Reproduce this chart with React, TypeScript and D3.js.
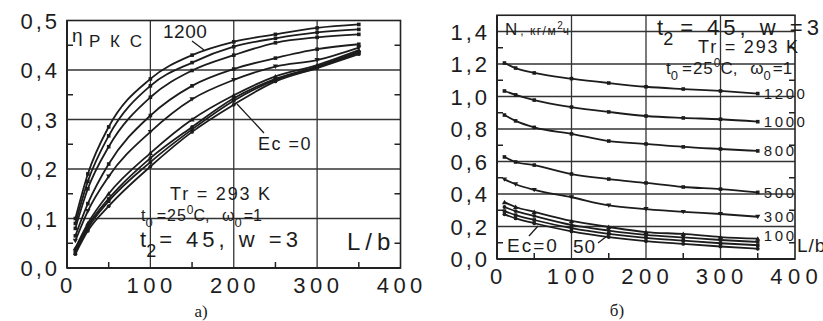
import React from 'react';
import * as d3 from 'd3';

// L/b sample points (shared by both panels)
const LB = [10, 25, 50, 100, 150, 200, 250, 300, 350];
// Ec series labels
const EC = ['1200', '1000', '800', '500', '300', '100', '50', '25', '0'];

// Panel a) : eta_RKS
const eta1200 = [0.1, 0.19, 0.285, 0.382, 0.43, 0.457, 0.472, 0.485, 0.492];
const eta1000 = [0.09, 0.175, 0.267, 0.368, 0.415, 0.447, 0.464, 0.476, 0.482];
const eta800 = [0.08, 0.16, 0.245, 0.345, 0.399, 0.43, 0.455, 0.466, 0.472];
const eta500 = [0.065, 0.13, 0.21, 0.308, 0.368, 0.402, 0.424, 0.442, 0.452];
const eta300 = [0.055, 0.115, 0.185, 0.275, 0.341, 0.38, 0.407, 0.42, 0.445];
const eta100 = [0.04, 0.09, 0.15, 0.232, 0.3, 0.349, 0.387, 0.41, 0.44];
const eta50 = [0.035, 0.085, 0.14, 0.222, 0.285, 0.343, 0.382, 0.407, 0.437];
const eta25 = [0.03, 0.08, 0.135, 0.214, 0.28, 0.338, 0.38, 0.405, 0.435];
const eta0 = [0.028, 0.075, 0.125, 0.205, 0.275, 0.33, 0.377, 0.404, 0.432];

// Panel б) : N, кг/м²ч
const n1200 = [1.206, 1.175, 1.145, 1.11, 1.083, 1.06, 1.046, 1.034, 1.018];
const n1000 = [1.034, 1.01, 0.978, 0.935, 0.905, 0.88, 0.868, 0.86, 0.845];
const n800 = [0.886, 0.85, 0.81, 0.77, 0.726, 0.708, 0.69, 0.677, 0.665];
const n500 = [0.628, 0.597, 0.578, 0.523, 0.492, 0.468, 0.443, 0.43, 0.41];
const n300 = [0.49, 0.46, 0.425, 0.38, 0.33, 0.307, 0.29, 0.277, 0.26];
const n100 = [0.35, 0.32, 0.29, 0.234, 0.197, 0.166, 0.154, 0.135, 0.125];
const n50 = [0.32, 0.295, 0.265, 0.21, 0.175, 0.148, 0.133, 0.117, 0.105];
const n25 = [0.295, 0.27, 0.24, 0.19, 0.155, 0.13, 0.113, 0.097, 0.085];
const n0 = [0.275, 0.25, 0.22, 0.17, 0.135, 0.11, 0.093, 0.077, 0.063];

const X_TICKS = [0, 100, 200, 300, 400];
const X_MINOR = [50, 150, 250, 350];
const ETA_TICKS = [0, 0.1, 0.2, 0.3, 0.4, 0.5];
const ETA_MINOR = [0.05, 0.15, 0.25, 0.35, 0.45];
const N_TICKS = [0, 0.2, 0.4, 0.6, 0.8, 1.0, 1.2, 1.4];
const N_MINOR = [0.1, 0.3, 0.5, 0.7, 0.9, 1.1, 1.3];
const LABELLED_N = ['1200', '1000', '800', '500', '300', '100'];

const etaSeries = [eta1200, eta1000, eta800, eta500, eta300, eta100, eta50, eta25, eta0];
const nSeries = [n1200, n1000, n800, n500, n300, n100, n50, n25, n0];
const MARKERS = ['sq', 'sq', 'sq', 'sq', 'tri', 'triup', 'dot', 'sq', 'dot'];

const FONT = '"Liberation Sans", Arial, sans-serif';
const INK = '#1c1c1c';
const fmt = (v: number) => d3.format('.1f')(v).replace('.', ',');

function Marker({ kind, x, y }: { kind: string; x: number; y: number }) {
  if (kind === 'tri')
    return <path d={`M${x - 2.6},${y - 2} L${x + 2.6},${y - 2} L${x},${y + 2.4} Z`} fill={INK} />;
  if (kind === 'triup')
    return <path d={`M${x - 2.6},${y + 2} L${x + 2.6},${y + 2} L${x},${y - 2.4} Z`} fill={INK} />;
  if (kind === 'dot') return <circle cx={x} cy={y} r={1.9} fill={INK} />;
  return <rect x={x - 1.8} y={y - 1.8} width={3.6} height={3.6} fill={INK} />;
}

type PanelProps = {
  x: d3.ScaleLinear<number, number>;
  y: d3.ScaleLinear<number, number>;
  series: number[][];
  yTicks: number[];
  yMinor: number[];
  top: number;
  xLabelSpacing: number;
};

function Panel({ x, y, series, yTicks, yMinor, top, xLabelSpacing }: PanelProps) {
  const [x0, x1] = x.range();
  const y0 = y(0);
  const line = d3
    .line<number>()
    .x((_, i) => x(LB[i]))
    .y((d) => y(d))
    .curve(d3.curveMonotoneX);
  return (
    <g>
      {yTicks.filter((t) => t > 0 && y(t) > top + 2).map((t) => (
        <line key={'h' + t} x1={x0} x2={x1} y1={y(t)} y2={y(t)} stroke="#333" strokeWidth={1.3} />
      ))}
      {X_TICKS.filter((t) => t > 0 && t < 400).map((t) => (
        <line key={'v' + t} x1={x(t)} x2={x(t)} y1={top} y2={y0} stroke="#333" strokeWidth={1.3} />
      ))}
      <rect x={x0} y={top} width={x1 - x0} height={y0 - top} fill="none" stroke="#222" strokeWidth={1.6} />
      <line x1={x0} x2={x1} y1={y0} y2={y0} stroke="#222" strokeWidth={2.2} />
      <line x1={x0} x2={x0} y1={top} y2={y0} stroke="#222" strokeWidth={2} />
      {yMinor.map((t) => (
        <g key={'ym' + t}>
          <line x1={x0} x2={x0 + 6} y1={y(t)} y2={y(t)} stroke="#222" strokeWidth={1.5} />
          <line x1={x1} x2={x1 - 6} y1={y(t)} y2={y(t)} stroke="#222" strokeWidth={1.5} />
        </g>
      ))}
      {X_MINOR.map((t) => (
        <line key={'xm' + t} x1={x(t)} x2={x(t)} y1={y0} y2={y0 - 6} stroke="#222" strokeWidth={1.5} />
      ))}
      {yTicks.map((t) => (
        <text
          key={'yl' + t}
          x={x0 - 7}
          y={y(t) + 8}
          textAnchor="end"
          fontFamily={FONT}
          fontSize={22}
          letterSpacing={3}
          fill={INK}
        >
          {fmt(t)}
        </text>
      ))}
      {X_TICKS.map((t) => (
        <text
          key={'xl' + t}
          x={x(t) + xLabelSpacing / 2 - 1}
          y={y0 + 25}
          textAnchor="middle"
          fontFamily={FONT}
          fontSize={22}
          letterSpacing={xLabelSpacing}
          fill={INK}
        >
          {t}
        </text>
      ))}
      {series.map((s, k) => (
        <g key={'s' + k}>
          <path d={line(s) || ''} fill="none" stroke={INK} strokeWidth={1.8} />
          {s.map((v, i) => (
            <Marker key={i} kind={MARKERS[k]} x={x(LB[i])} y={y(v)} />
          ))}
        </g>
      ))}
    </g>
  );
}

export default function App() {
  const xA = d3.scaleLinear().domain([0, 400]).range([67, 400.5]);
  const yA = d3.scaleLinear().domain([0, 0.5]).range([268, 20.5]);
  const xB = d3.scaleLinear().domain([0, 400]).range([497, 795]);
  const yB = d3.scaleLinear().domain([0, 1.5]).range([259, 15.25]);

  const txt = { fontFamily: FONT, fill: INK } as const;

  return (
    <svg
      width={823}
      height={321}
      style={{ position: 'absolute', left: 0, top: 0, background: '#fff' }}
    >
      <rect x={0} y={0} width={823} height={321} fill="#fff" />
      <Panel x={xA} y={yA} series={etaSeries} yTicks={ETA_TICKS} yMinor={ETA_MINOR} top={yA(0.5)} xLabelSpacing={4.5} />
      <Panel x={xB} y={yB} series={nSeries} yTicks={N_TICKS} yMinor={N_MINOR} top={yB(1.5)} xLabelSpacing={5.5} />

      {/* Panel a) annotations */}
      <text x={72} y={42} fontSize={19} {...txt}>η</text>
      <text x={89} y={47} fontSize={17} letterSpacing={2.5} {...txt}>Р К С</text>
      <text x={163} y={38} fontSize={19} letterSpacing={0.5} {...txt}>1200</text>
      <line x1={192} y1={41} x2={204} y2={50} stroke={INK} strokeWidth={1.3} />
      <text x={258} y={150} fontSize={18} letterSpacing={1.5} {...txt}>Ec =0</text>
      <line x1={237} y1={104} x2={264} y2={133} stroke={INK} strokeWidth={1.3} />
      <text x={170} y={200} fontSize={18} letterSpacing={1.8} {...txt}>Tr = 293 K</text>
      <text x={141} y={221} fontSize={16} {...txt}>
        t<tspan fontSize={13} dy={6}>0</tspan>
        <tspan dy={-6} dx={4} letterSpacing={1}>=25</tspan>
        <tspan fontSize={12} dy={-7}>0</tspan>
        <tspan dy={7}>C, </tspan>
        <tspan dx={8}>ω</tspan>
        <tspan fontSize={13} dy={6}>0</tspan>
        <tspan dy={-6} dx={2}>=1</tspan>
      </text>
      <text x={140} y={247} fontSize={22} {...txt}>
        t<tspan fontSize={18} dy={10}>2</tspan>
        <tspan dy={-10} dx={3} letterSpacing={4}>= 45, w =3</tspan>
      </text>
      <text x={347} y={250} fontSize={24} letterSpacing={5} {...txt}>L/b</text>

      {/* Panel б) annotations */}
      <text x={505} y={35} fontSize={17} {...txt}>
        N<tspan fontSize={12} dx={3} letterSpacing={1.5}>, кг/м</tspan>
        <tspan fontSize={10} dy={-6}>2</tspan>
        <tspan fontSize={12} dy={6}>ч</tspan>
      </text>
      <text x={657} y={35} fontSize={22} {...txt}>
        t<tspan fontSize={18} dy={10}>2</tspan>
        <tspan dy={-10} dx={7} letterSpacing={4}>= 45, w =3</tspan>
      </text>
      <text x={698} y={53} fontSize={18} letterSpacing={1.8} {...txt}>Tr = 293 K</text>
      <text x={666} y={74} fontSize={17} {...txt}>
        t<tspan fontSize={13} dy={6}>0</tspan>
        <tspan dy={-6} dx={4} letterSpacing={1}>=25</tspan>
        <tspan fontSize={12} dy={-7}>0</tspan>
        <tspan dy={7}>C, </tspan>
        <tspan dx={8}>ω</tspan>
        <tspan fontSize={13} dy={6}>0</tspan>
        <tspan dy={-6} dx={2}>=1</tspan>
      </text>
      {nSeries.map((s, k) =>
        LABELLED_N.includes(EC[k]) ? (
          <text
            key={'lab' + k}
            x={xB(LB[LB.length - 1]) + 6}
            y={yB(s[s.length - 1]) + (EC[k] === '100' ? 2 : 5.5)}
            fontSize={15}
            letterSpacing={2.6}
            {...txt}
          >
            {EC[k]}
          </text>
        ) : null
      )}
      <text x={797} y={252} fontSize={19} letterSpacing={1} {...txt}>L/b</text>
      <text x={507} y={252} fontSize={19} letterSpacing={2} {...txt}>Ec=0</text>
      <line x1={529} y1={236} x2={538} y2={226} stroke={INK} strokeWidth={1.3} />
      <text x={573} y={253} fontSize={19} letterSpacing={1} {...txt}>50</text>
      <line x1={598} y1={243} x2={611} y2={233} stroke={INK} strokeWidth={1.3} />

      {/* captions */}
      <text x={201} y={317} fontSize={17} textAnchor="middle" fontFamily='"Liberation Serif", "DejaVu Serif", serif' fill={INK}>а)</text>
      <text x={617} y={316} fontSize={17} textAnchor="middle" fontFamily='"Liberation Serif", "DejaVu Serif", serif' fill={INK}>б)</text>
    </svg>
  );
}
